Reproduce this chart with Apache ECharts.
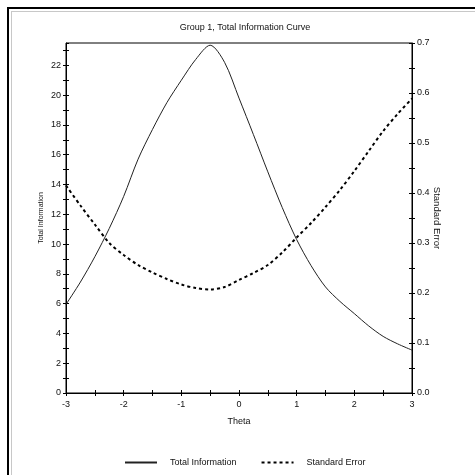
<!DOCTYPE html>
<html>
<head>
<meta charset="utf-8">
<script src="https://cdn.jsdelivr.net/npm/echarts@6/dist/echarts.min.js"></script>
<style>
  html, body { margin: 0; padding: 0; background: #fff; }
  #main { width: 475px; height: 475px; }
</style>
</head>
<body>
<div id="main"></div>
<script>
// theta 取值
const theta = [-3, -2.75, -2.5, -2.25, -2, -1.75, -1.5, -1.25, -1, -0.75, -0.5, -0.25,
  0, 0.25, 0.5, 0.75, 1, 1.25, 1.5, 1.75, 2, 2.25, 2.5, 2.75, 3];
// 总信息量 (左轴)
const totalInfo = [5.95, 7.45, 9.15, 11.05, 13.2, 15.7, 17.7, 19.5, 21.0, 22.4, 23.35, 22.2,
  19.8, 17.35, 14.85, 12.45, 10.3, 8.55, 7.12, 6.15, 5.33, 4.5, 3.8, 3.3, 2.88];
// 标准误 (右轴)
const stdError = [0.415, 0.375, 0.337, 0.300, 0.276, 0.256, 0.241, 0.228, 0.217, 0.210, 0.207, 0.212,
  0.226, 0.240, 0.256, 0.281, 0.311, 0.340, 0.372, 0.406, 0.444, 0.484, 0.524, 0.558, 0.589];
const seriesNames = ['Total Information', 'Standard Error'];

const font = '"Liberation Sans", Arial, sans-serif';
const black = '#000';
const txt = '#111';

let myChart = echarts.init(document.getElementById('main'), null, { renderer: 'canvas' });

function pairs(ys) {
  return theta.map((t, i) => [t, ys[i]]);
}

function isMult(v, step) {
  let q = v / step;
  return Math.abs(q - Math.round(q)) < 1e-6;
}

// 只画朝内的刻度, 叠在主轴上, 让刻度穿过轴线
function tickOnlyX() {
  return {
    type: 'value', position: 'bottom', min: -3, max: 3, interval: 0.5,
    axisLine: { show: false, onZero: false },
    axisTick: { show: true, inside: true, length: 3, lineStyle: { color: black } },
    axisLabel: { show: false }, splitLine: { show: false }
  };
}
function tickOnlyY(pos, max, interval) {
  return {
    type: 'value', position: pos, min: 0, max: max, interval: interval,
    axisLine: { show: false, onZero: false },
    axisTick: { show: true, inside: true, length: 3, lineStyle: { color: black } },
    axisLabel: { show: false }, splitLine: { show: false }
  };
}

option = {
  backgroundColor: '#fff',
  animation: false,
  textStyle: { fontFamily: font, color: txt },
  title: {
    text: 'Group 1, Total Information Curve',
    left: 245,
    textAlign: 'center',
    top: 23.5,
    padding: 0,
    textStyle: { fontFamily: font, fontSize: 9, fontWeight: 'normal', color: txt }
  },
  legend: {
    left: 124,
    top: 458,
    padding: 0,
    itemWidth: 32,
    itemHeight: 10,
    itemGap: 24,
    itemStyle: { opacity: 0, borderWidth: 0 },
    textStyle: { fontFamily: font, fontSize: 9, color: txt, padding: [0, 0, 0, 8] },
    data: seriesNames
  },
  grid: {
    left: 66, right: 63, top: 43, bottom: 82,
    show: true, borderColor: black, borderWidth: 1, backgroundColor: '#fff'
  },
  xAxis: [
    {
      type: 'value', position: 'bottom',
      min: -3, max: 3, interval: 0.5,
      name: 'Theta',
      nameLocation: 'middle',
      nameGap: 24.5,
      nameMoveOverlap: false,
      nameTextStyle: { fontFamily: font, fontSize: 9, color: txt },
      axisLine: { onZero: false, lineStyle: { color: black, width: 1 } },
      axisTick: { length: 3, lineStyle: { color: black } },
      axisLabel: {
        margin: 7.5, fontFamily: font, fontSize: 9, color: txt,
        formatter: v => isMult(v, 1) ? String(Math.round(v)) : ''
      },
      splitLine: { show: false }
    },
    tickOnlyX()
  ],
  yAxis: [
    {
      type: 'value', position: 'left',
      min: 0, max: 23.5, interval: 1,
      name: 'Total Information',
      nameLocation: 'middle', nameRotate: 90, nameGap: 21.5,
      nameMoveOverlap: false,
      nameTextStyle: { fontFamily: font, fontSize: 7, color: txt },
      axisLine: { show: true, onZero: false, lineStyle: { color: black, width: 1 } },
      axisTick: { show: true, length: 3, lineStyle: { color: black } },
      axisLabel: {
        margin: 5, fontFamily: font, fontSize: 9, color: txt, showMaxLabel: false,
        formatter: v => isMult(v, 2) ? String(Math.round(v)) : ''
      },
      splitLine: { show: false }
    },
    {
      type: 'value', position: 'right',
      min: 0, max: 0.7, interval: 0.05,
      name: 'Standard Error',
      nameLocation: 'middle', nameRotate: -90, nameGap: 20,
      nameMoveOverlap: false,
      nameTextStyle: { fontFamily: font, fontSize: 9.5, color: txt },
      axisLine: { show: true, onZero: false, lineStyle: { color: black, width: 1 } },
      axisTick: { show: true, length: 3, lineStyle: { color: black } },
      axisLabel: {
        margin: 5, fontFamily: font, fontSize: 9, color: txt,
        formatter: v => isMult(v, 0.1) ? v.toFixed(1) : ''
      },
      splitLine: { show: false }
    },
    tickOnlyY('left', 23.5, 1),
    tickOnlyY('right', 0.7, 0.05)
  ],
  graphic: [
    // 外框
    { type: 'rect', shape: { x: 7, y: 7, width: 468, height: 2 }, style: { fill: black }, silent: true },
    { type: 'rect', shape: { x: 7, y: 7, width: 2, height: 468 }, style: { fill: black }, silent: true },
    { type: 'rect', shape: { x: 11, y: 11, width: 464, height: 1 }, style: { fill: '#c8c8c8' }, silent: true },
    { type: 'rect', shape: { x: 11, y: 11, width: 1, height: 464 }, style: { fill: '#c8c8c8' }, silent: true }
  ],
  series: [
    {
      name: seriesNames[0],
      type: 'line',
      xAxisIndex: 0,
      yAxisIndex: 0,
      smooth: 0.3,
      symbol: 'none',
      lineStyle: { color: '#222', width: 1 },
      itemStyle: { color: '#222' },
      data: pairs(totalInfo)
    },
    {
      name: seriesNames[1],
      type: 'line',
      xAxisIndex: 0,
      yAxisIndex: 1,
      smooth: 0.3,
      symbol: 'none',
      lineStyle: { color: black, width: 2, type: [3, 3] },
      itemStyle: { color: black },
      data: pairs(stdError)
    }
  ]
};

myChart.setOption(option);
</script>
</body>
</html>
